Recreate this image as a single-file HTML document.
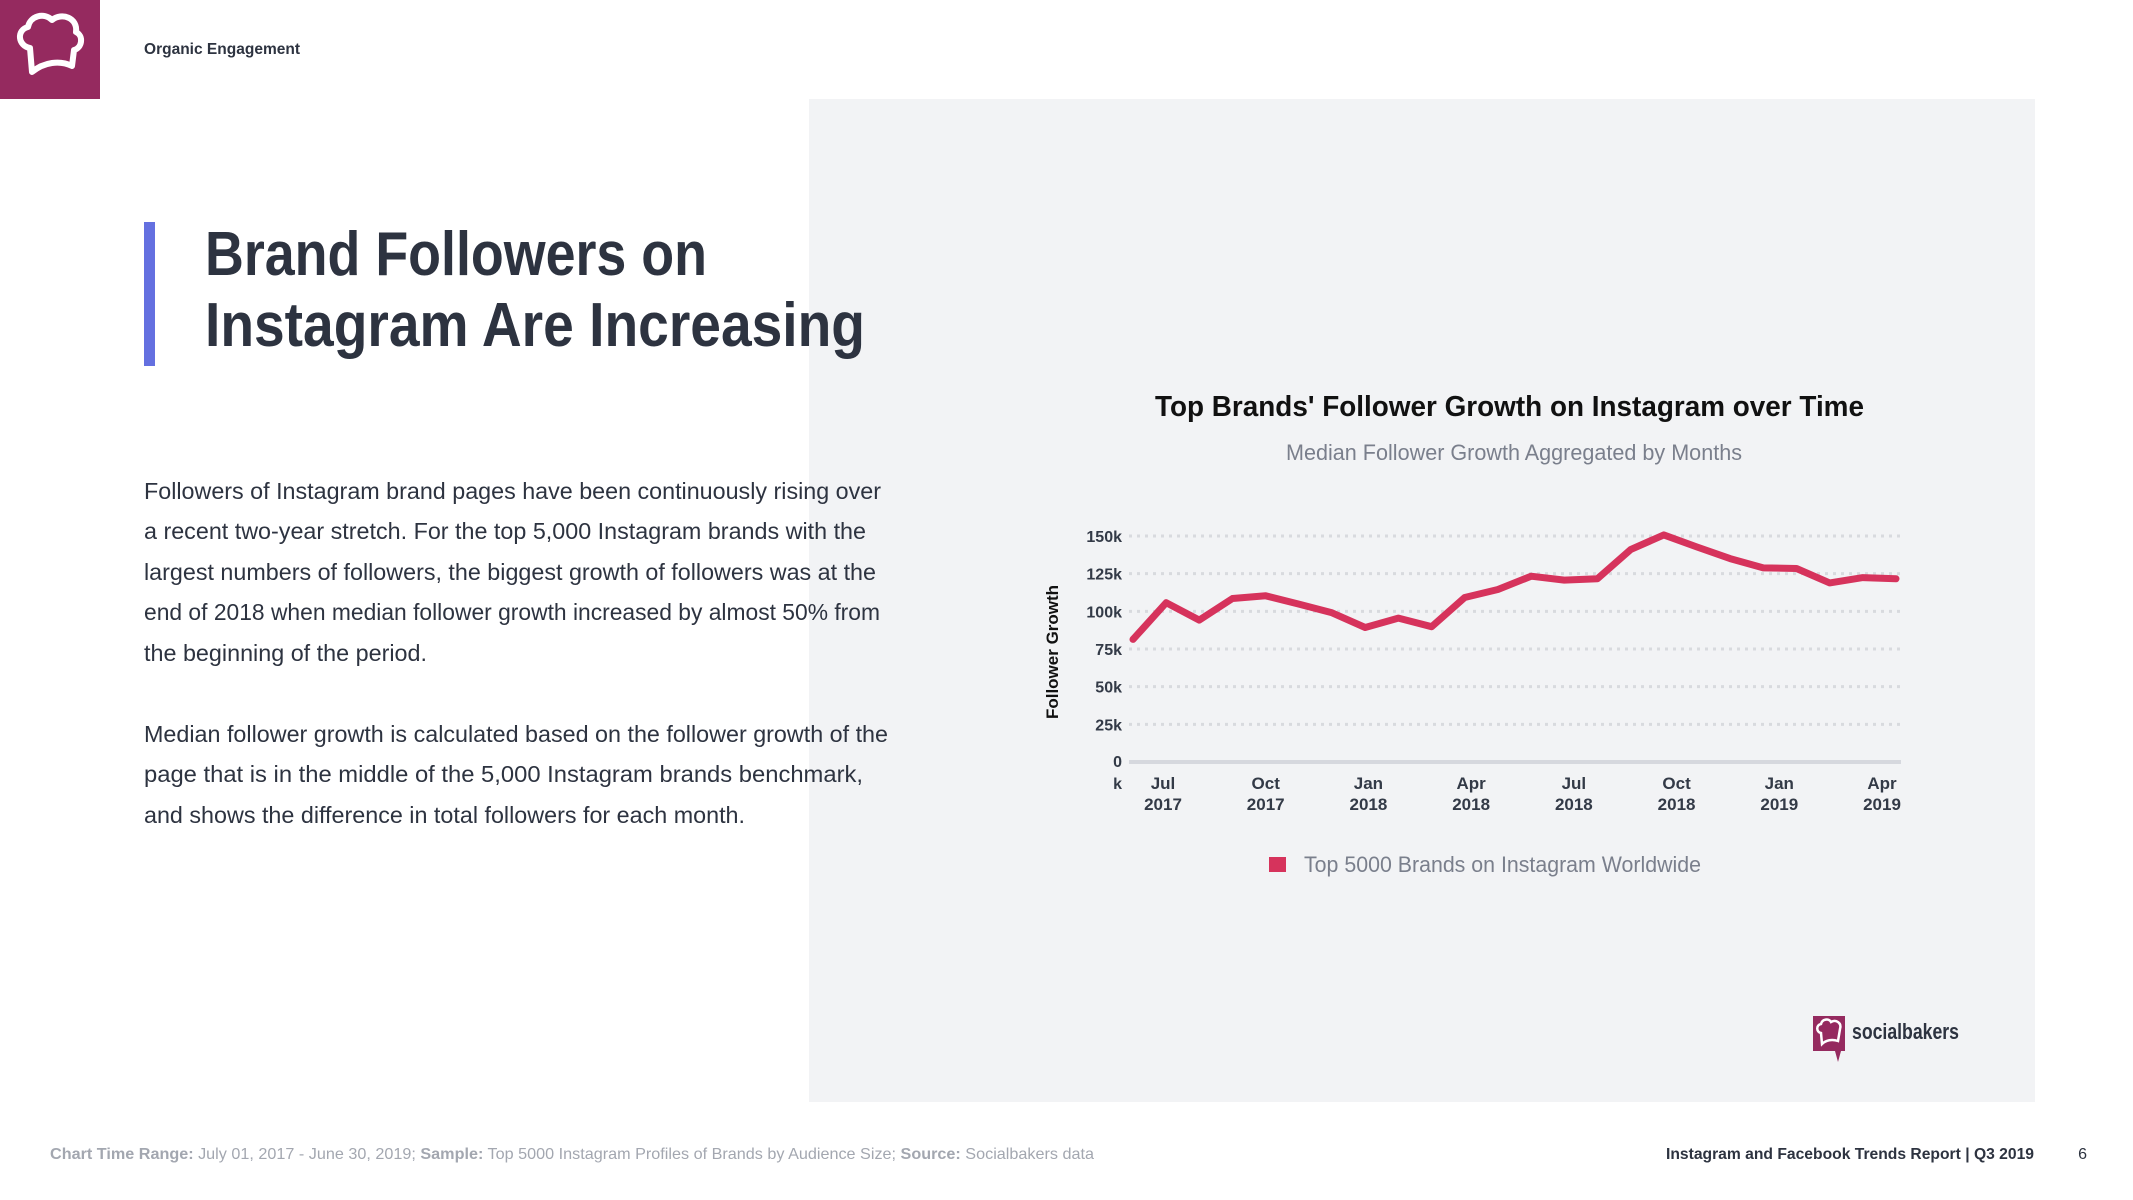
<!DOCTYPE html>
<html><head><meta charset="utf-8"><style>
html,body{margin:0;padding:0;background:#fff;}
svg{display:block;font-family:"Liberation Sans",sans-serif;}
</style></head><body>
<svg id="page" width="2133" height="1200" viewBox="0 0 2133 1200">
  <rect x="809" y="99" width="1226" height="1003" fill="#f2f3f5"/>
  <g>
    <rect x="0" y="0" width="100" height="99" fill="#952a5f"/>
    <path d="M32 72 L30 48 C18 46 16 30 28 27 C30 16 44 12 52 20 C62 12 78 18 76 32 C84 36 82 48 74 50 L72 66 C60 60 44 62 32 72 Z" fill="none" stroke="#fff" stroke-width="6" stroke-linejoin="round"/>
  </g>
  <text x="144" y="54" font-size="16" font-weight="bold" fill="#2d3340" textLength="156" lengthAdjust="spacingAndGlyphs">Organic Engagement</text>
  <rect x="144" y="222" width="11" height="144" fill="#6470e0"/>
  <g font-size="62" font-weight="bold" fill="#2d3340">
    <text x="205" y="275" textLength="502" lengthAdjust="spacingAndGlyphs">Brand Followers on</text>
    <text x="205" y="346" textLength="660" lengthAdjust="spacingAndGlyphs">Instagram Are Increasing</text>
  </g>
  <g font-size="23" fill="#2d3340">
    <text x="144" y="499" textLength="737" lengthAdjust="spacingAndGlyphs">Followers of Instagram brand pages have been continuously rising over</text>
    <text x="144" y="539" textLength="722" lengthAdjust="spacingAndGlyphs">a recent two-year stretch. For the top 5,000 Instagram brands with the</text>
    <text x="144" y="580" textLength="732" lengthAdjust="spacingAndGlyphs">largest numbers of followers, the biggest growth of followers was at the</text>
    <text x="144" y="620" textLength="736" lengthAdjust="spacingAndGlyphs">end of 2018 when median follower growth increased by almost 50% from</text>
    <text x="144" y="661" textLength="283" lengthAdjust="spacingAndGlyphs">the beginning of the period.</text>
    <text x="144" y="742" textLength="744" lengthAdjust="spacingAndGlyphs">Median follower growth is calculated based on the follower growth of the</text>
    <text x="144" y="782" textLength="719" lengthAdjust="spacingAndGlyphs">page that is in the middle of the 5,000 Instagram brands benchmark,</text>
    <text x="144" y="823" textLength="601" lengthAdjust="spacingAndGlyphs">and shows the difference in total followers for each month.</text>
  </g>
  <text x="1155" y="416" font-size="29" font-weight="bold" fill="#111" textLength="709" lengthAdjust="spacingAndGlyphs">Top Brands' Follower Growth on Instagram over Time</text>
  <text x="1286" y="460" font-size="22" fill="#7a7f8c" textLength="456" lengthAdjust="spacingAndGlyphs">Median Follower Growth Aggregated by Months</text>
  <g id="chart"></g>
  <g>
    <rect x="1269" y="857" width="17" height="15" fill="#d6335c"/>
    <text x="1304" y="872" font-size="22" fill="#7a7f8c" textLength="397" lengthAdjust="spacingAndGlyphs">Top 5000 Brands on Instagram Worldwide</text>
  </g>
  <g>
    <rect x="1813" y="1016" width="32" height="35" fill="#952a5f"/>
    <path d="M1835 1051 L1838 1062 L1841 1051 Z" fill="#952a5f"/>
    <path d="M1822 1044 L1821 1033 C1816 1032 1816 1025 1821 1024 C1822 1019 1829 1018 1831 1022 C1836 1019 1842 1023 1840 1029 L1838 1041 C1832 1039 1826 1040 1822 1044 Z" fill="none" stroke="#fff" stroke-width="2.5"/>
    <text x="1852" y="1039" font-size="22" font-weight="bold" fill="#2d3340" textLength="107" lengthAdjust="spacingAndGlyphs">socialbakers</text>
  </g>
  <text x="50" y="1159" font-size="16" fill="#a3a7b0" textLength="1044" lengthAdjust="spacingAndGlyphs"><tspan font-weight="bold">Chart Time Range:</tspan> July 01, 2017 - June 30, 2019; <tspan font-weight="bold">Sample:</tspan> Top 5000 Instagram Profiles of Brands by Audience Size; <tspan font-weight="bold">Source:</tspan> Socialbakers data</text>
  <text x="1666" y="1159" font-size="16" font-weight="bold" fill="#2d3340" textLength="368" lengthAdjust="spacingAndGlyphs">Instagram and Facebook Trends Report | Q3 2019</text>
  <text x="2087" y="1159" font-size="16" fill="#2d3340" text-anchor="end">6</text>
</svg>
<script>
const values = [81.4,105.7,94.2,108.5,110.3,104.8,99,89.3,95.5,89.8,109.2,114.5,123.3,120.7,121.6,141,150.7,142.7,135,128.8,128.4,118.9,122.4,121.6];
const yTicks = [25,50,75,100,125,150];
const yTickLabels = ["25k","50k","75k","100k","125k","150k"];
const xLabelIndex = [0,3,6,9,12,15,18,21];
const xLabelMonths = ["Jul","Oct","Jan","Apr","Jul","Oct","Jan","Apr"];
const xLabelYears = ["2017","2017","2018","2018","2018","2018","2019","2019"];

const NS = "http://www.w3.org/2000/svg";
const g = document.getElementById("chart");
const x0 = 1133, x1 = 1896, gx0 = 1129, gx1 = 1901;
const yBase = 762, yTop = 536, yMax = 150;
const x = i => x0 + (x1 - x0) * i / (values.length - 1);
const lx = i => 1163 + (1882 - 1163) * i / 21;
const y = v => yBase - (yBase - yTop) * v / yMax;
function el(tag, attrs, parent) {
  const e = document.createElementNS(NS, tag);
  for (const k in attrs) e.setAttribute(k, attrs[k]);
  (parent || g).appendChild(e);
  return e;
}
yTicks.forEach((t, i) => {
  const ln = el("line", {x1: gx0, x2: gx1, y1: y(t), y2: y(t), stroke: "#d8dade", "stroke-width": 3, "stroke-dasharray": "3 5"});
  
  
  const tx = el("text", {x: 1122, y: y(t) + 6, "text-anchor": "end", "font-size": 16, "font-weight": "bold", fill: "#333a47"});
  tx.textContent = yTickLabels[i];
  
  
});
const base = el("line", {x1: gx0, x2: gx1, y1: yBase, y2: yBase, stroke: "#d6d8de", "stroke-width": 4});


const z0 = el("text", {x: 1122, y: yBase + 5, "text-anchor": "end", "font-size": 16, "font-weight": "bold", fill: "#333a47"});
z0.textContent = "0";


const zk = el("text", {x: 1122, y: yBase + 27, "text-anchor": "end", "font-size": 16, "font-weight": "bold", fill: "#333a47"});
zk.textContent = "k";


xLabelIndex.forEach((idx, i) => {
  const t1 = el("text", {x: lx(idx), y: 789, "text-anchor": "middle", "font-size": 17, "font-weight": "bold", fill: "#333a47"});
  t1.textContent = xLabelMonths[i];
  
  
  const t2 = el("text", {x: lx(idx), y: 810, "text-anchor": "middle", "font-size": 17, "font-weight": "bold", fill: "#333a47"});
  t2.textContent = xLabelYears[i];
  
  
});
const yt = el("text", {x: 0, y: 0, transform: "translate(1058,652) rotate(-90)", "text-anchor": "middle", "font-size": 17, "font-weight": "bold", fill: "#111"});
yt.textContent = "Follower Growth";


const pts = values.map((v, i) => x(i).toFixed(1) + "," + y(v).toFixed(1)).join(" ");
const line = el("polyline", {points: pts, fill: "none", stroke: "#d6335c", "stroke-width": 7, "stroke-linejoin": "round", "stroke-linecap": "round"});


</script>
</body></html>
